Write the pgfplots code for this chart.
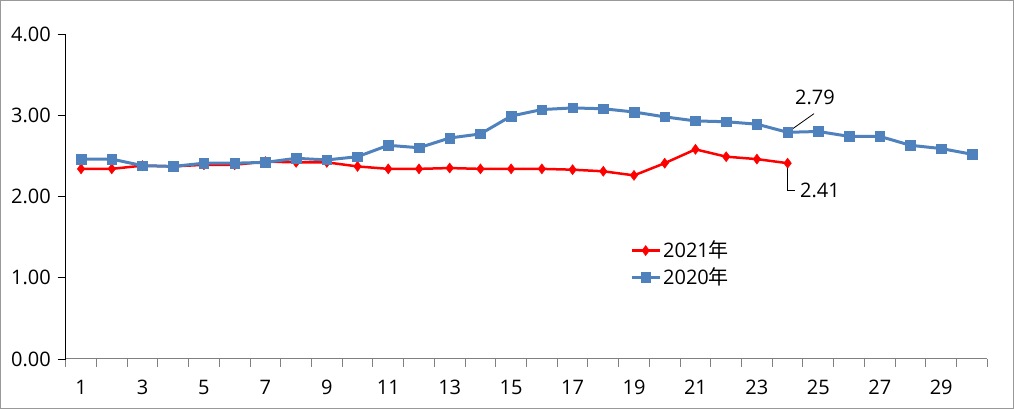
\documentclass[border=0pt]{standalone}
\usepackage{fontspec}
\setmainfont{Open Sans}
\newfontfamily\cjk{Noto Sans CJK SC}
\usepackage{pgfplots}
\pgfplotsset{compat=1.18}
\definecolor{xlblue}{HTML}{4F81BD}
\newcommand\fs{\fontsize{20}{23}\selectfont}
\begin{document}
\fs
\begin{tikzpicture}[x=1pt,y=1pt]
\draw[gray!80, line width=1.2pt] (0.6,0.6) rectangle (1013.4,408.4);
\begin{axis}[
  at={(65.7pt,50pt)}, anchor=south west,
  scale only axis, width=921.6pt, height=325pt,
  xmin=0.5, xmax=30.5, ymin=0, ymax=4,
  axis lines*=left,
  x axis line style={gray, line width=1pt, -},
  y axis line style={black, line width=0.8pt, -},
  xtick={1,3,...,29},
  minor xtick={0.5,1.5,...,30.5},
  major x tick style={draw=none},
  minor x tick style={gray, line width=1pt},
  ytick={0,1,2,3,4},
  major y tick style={black, line width=0.8pt},
  tick align=outside,
  major tick length=8pt, minor tick length=8pt,
  yticklabel style={/pgf/number format/.cd, fixed, fixed zerofill, precision=2},
  /pgf/number format/assume math mode=true,
  xticklabel style={yshift=-6pt},
  ticklabel style={font=\fs},
  legend style={draw=none, fill=none, at={(0.609,0.377)}, anchor=north west,
    font=\fs, row sep=3pt,
    /tikz/every even column/.append style={column sep=4pt}},
  legend cell align=left,
  legend image code/.code={
    \draw[#1] (0pt,0pt) -- (28pt,0pt);
    \draw[#1, only marks] plot coordinates {(14pt,0pt)};
  },
  clip=false,
]
\addplot[red, line width=2.5pt, mark=diamond*, mark size=5pt, mark options={solid, line width=0.5pt}]
coordinates {
(1,2.34)(2,2.34)(3,2.38)(4,2.37)(5,2.39)(6,2.39)(7,2.43)(8,2.42)(9,2.42)(10,2.37)
(11,2.34)(12,2.34)(13,2.35)(14,2.34)(15,2.34)(16,2.34)(17,2.33)(18,2.31)(19,2.26)(20,2.41)
(21,2.58)(22,2.49)(23,2.46)(24,2.41)};
\addlegendentry{2021{\cjk 年}}
\addplot[xlblue, line width=3pt, mark=square*, mark size=4.8pt, mark options={solid, line width=0.5pt}]
coordinates {
(1,2.46)(2,2.46)(3,2.38)(4,2.37)(5,2.41)(6,2.41)(7,2.42)(8,2.47)(9,2.45)(10,2.49)
(11,2.63)(12,2.60)(13,2.72)(14,2.77)(15,2.99)(16,3.07)(17,3.09)(18,3.08)(19,3.04)(20,2.98)
(21,2.93)(22,2.92)(23,2.89)(24,2.79)(25,2.80)(26,2.74)(27,2.74)(28,2.63)(29,2.59)(30,2.52)};
\addlegendentry{2020{\cjk 年}}
\draw[black, line width=0.8pt] (axis cs:24,2.79) -- (axis cs:24.86,3.02);
\node[font=\fs] at (axis cs:24.89,3.22) {2.79};
\draw[black, line width=0.8pt] (axis cs:24,2.41) -- (axis cs:24,2.07) -- (axis cs:24.24,2.07);
\node[font=\fs] at (axis cs:25.05,2.08) {2.41};
\end{axis}
\end{tikzpicture}
\end{document}
